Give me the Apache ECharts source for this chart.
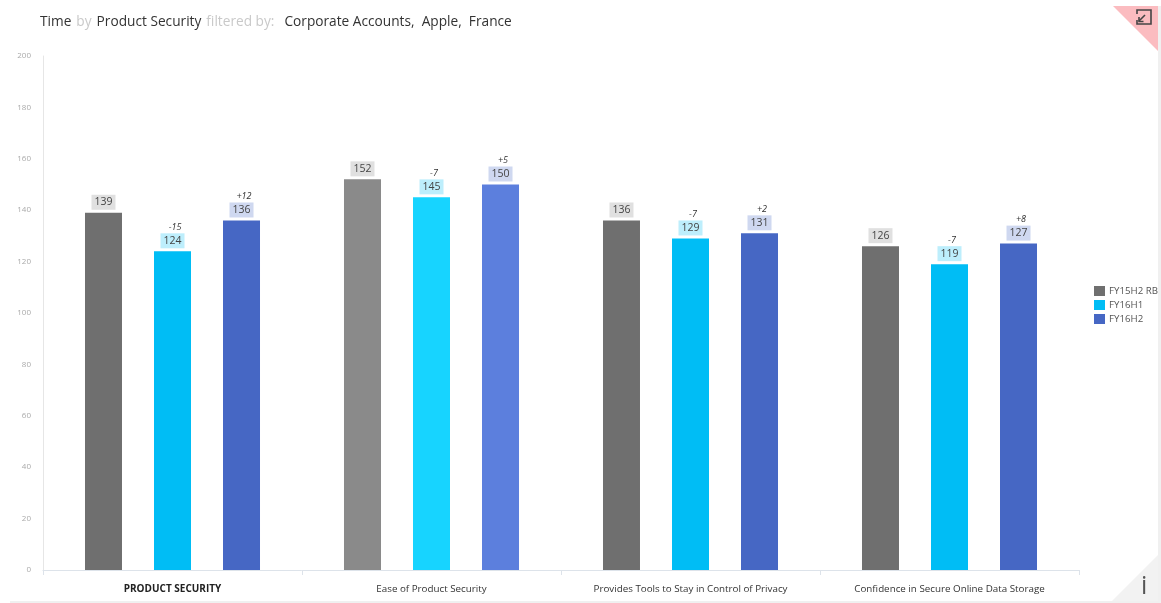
<!DOCTYPE html>
<html>
<head>
<meta charset="utf-8">
<style>html,body{margin:0;padding:0;background:#fff}#c{width:1161px;height:603px}</style>
<script src="https://cdn.jsdelivr.net/npm/echarts@6/dist/echarts.min.js"></script>
</head>
<body>
<div id="c"></div>
<script>
// Scores per attribute and period
const categories = ['PRODUCT SECURITY', 'Ease of Product Security', 'Provides Tools to Stay in Control of Privacy', 'Confidence in Secure Online Data Storage'];
const seriesNames = ['FY15H2 RB', 'FY16H1', 'FY16H2'];
const fy15h2 = [139, 152, 136, 126];
const fy16h1 = [124, 145, 129, 119];
const fy16h2 = [136, 150, 131, 127];
const deltaH1 = ['-15', '-7', '-7', '-7'];
const deltaH2 = ['+12', '+5', '+2', '+8'];
const yTicks = [0, 20, 40, 60, 80, 100, 120, 140, 160, 180, 200];

const FONT = '"Open Sans", "Noto Sans", sans-serif';
const baseColors = ['#6f6f6f', '#00bdf5', '#4667c4'];
const hiliteColors = ['#8a8a8a', '#17d4ff', '#5c7fdd']; // highlighted attribute group
const boxColors = ['#e0e0e0', '#bdeefc', '#cfd8f0'];

function makeSeries(idx, values, deltas) {
  return {
    name: seriesNames[idx],
    type: 'bar',
    barWidth: 37,
    barGap: '86.5%',
    itemStyle: { color: baseColors[idx] },
    data: values.map((v, i) => ({
      value: v,
      itemStyle: { color: i === 1 ? hiliteColors[idx] : baseColors[idx] }
    })),
    label: {
      show: true,
      position: 'top',
      distance: 4,
      formatter: p => (deltas ? '{d|' + deltas[p.dataIndex] + '}\n' : '') + '{v|' + p.value + '}',
      rich: {
        d: { fontFamily: FONT, fontSize: 9, fontStyle: 'italic', color: '#333', height: 13, lineHeight: 13, align: 'center', padding: [0, 0, 1, 5] },
        v: { fontFamily: FONT, fontSize: 10.5, color: '#444', backgroundColor: boxColors[idx], padding: [2, 3, 2, 3], lineHeight: 13, align: 'center' }
      }
    }
  };
}

const chart = echarts.init(document.getElementById('c'), null, { renderer: 'canvas' });
chart.setOption({
  animation: false,
  backgroundColor: '#fff',
  title: {
    left: 40, top: 13, padding: 0,
    text: '{a|Time} {b|by} {a|Product Security} {b|filtered by:}  {a|Corporate Accounts,  Apple,  France}',
    textStyle: {
      fontWeight: 'normal',
      rich: {
        a: { fontFamily: FONT, fontSize: 13.7, fontWeight: 'normal', color: '#333' },
        b: { fontFamily: FONT, fontSize: 13.7, fontWeight: 'normal', color: '#c9c9c9' }
      }
    }
  },
  legend: {
    orient: 'vertical',
    left: 1094, top: 286, padding: 0,
    itemWidth: 11, itemHeight: 10, itemGap: 4, icon: 'rect',
    textStyle: { fontFamily: FONT, fontSize: 9.7, color: '#555', padding: [0, 0, 0, -1] },
    data: seriesNames
  },
  grid: { left: 43, right: 82, top: 56, bottom: 33 },
  xAxis: {
    type: 'category',
    data: categories,
    axisLine: { lineStyle: { color: '#dde3ea' } },
    axisTick: { show: true, length: 5, lineStyle: { color: '#dde3ea' } },
    axisLabel: {
      margin: 14,
      fontFamily: FONT, fontSize: 9.8, color: '#333',
      formatter: (v, i) => i === 0 ? '{s|' + v + '}' : v,
      rich: { s: { fontFamily: FONT, fontSize: 10, fontWeight: 'bold', color: '#222' } }
    }
  },
  yAxis: {
    type: 'value',
    min: yTicks[0], max: yTicks[yTicks.length - 1], interval: yTicks[1] - yTicks[0],
    axisLine: { show: true, lineStyle: { color: '#e6e6e6' } },
    axisTick: { show: false },
    splitLine: { show: false },
    axisLabel: { margin: 12, fontFamily: FONT, fontSize: 8, color: '#aaa' }
  },
  series: [
    makeSeries(0, fy15h2, null),
    makeSeries(1, fy16h1, deltaH1),
    makeSeries(2, fy16h2, deltaH2)
  ],
  graphic: [
    // panel edges
    { type: 'rect', shape: { x: 1158, y: 6, width: 3, height: 597 }, style: { fill: '#f0f0f0' }, silent: true },
    { type: 'rect', shape: { x: 10, y: 601, width: 1151, height: 2 }, style: { fill: '#f0f0f0' }, silent: true },
    // corner flags
    { type: 'polygon', shape: { points: [[1113, 6], [1158, 6], [1158, 51]] }, style: { fill: '#fbbcc0' }, silent: true },
    { type: 'polygon', shape: { points: [[1158, 555], [1158, 601], [1112, 601]] }, style: { fill: '#f2f2f2' }, silent: true },
    // collapse icon
    { type: 'polyline', shape: { points: [[1141, 10], [1151, 10], [1151, 24], [1137, 24], [1137, 20]] }, style: { stroke: '#444', lineWidth: 1.6, fill: null }, silent: true },
    { type: 'polyline', shape: { points: [[1137, 14], [1137, 10], [1141, 10]] }, style: { stroke: '#444', lineWidth: 1.6, fill: null }, silent: true },
    { type: 'line', shape: { x1: 1145, y1: 15, x2: 1139, y2: 21 }, style: { stroke: '#444', lineWidth: 1.6 }, silent: true },
    { type: 'polyline', shape: { points: [[1139, 17], [1139, 21.5], [1143.5, 21.5]] }, style: { stroke: '#444', lineWidth: 1.6, fill: null }, silent: true },
    // info glyph
    { type: 'text', left: 1141, top: 574, style: { text: 'i', fontFamily: FONT, fontSize: 25, fill: '#555' }, silent: true }
  ]
});
</script>
</body>
</html>
